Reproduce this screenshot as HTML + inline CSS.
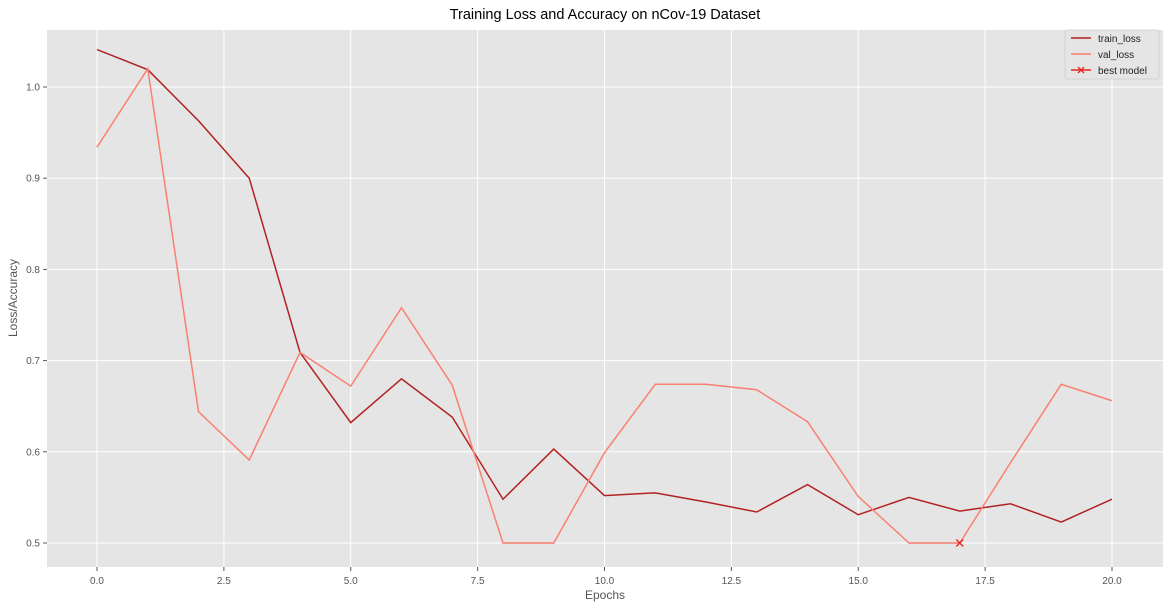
<!DOCTYPE html>
<html><head><meta charset="utf-8"><style>
html,body{margin:0;padding:0;background:#fff;}
svg text{font-family:"Liberation Sans",sans-serif;}
</style></head><body>
<svg id="chart" width="1170" height="609" xmlns="http://www.w3.org/2000/svg">
<rect x="47" y="30" width="1116" height="537" fill="#e5e5e5"/>
<g id="grid"></g>
<g id="ticks"></g>
<g id="series"></g>
<text x="605" y="19" font-size="14.5" text-anchor="middle" fill="#000">Training Loss and Accuracy on nCov-19 Dataset</text>
<text x="605" y="599" font-size="12" text-anchor="middle" fill="#555">Epochs</text>
<text transform="translate(17,298) rotate(-90)" font-size="12" text-anchor="middle" fill="#555">Loss/Accuracy</text>
<g>
<rect x="1065" y="30" width="94" height="49" fill="#e5e5e5" stroke="#ccc" stroke-width="0.8" rx="2"/>
<line x1="1071" y1="38" x2="1091" y2="38" stroke="#b22222" stroke-width="1.5"/>
<text x="1098" y="42" font-size="10" fill="#222">train_loss</text>
<line x1="1071" y1="54" x2="1091" y2="54" stroke="#fa8072" stroke-width="1.5"/>
<text x="1098" y="58" font-size="10" fill="#222">val_loss</text>
<line x1="1071" y1="70" x2="1091" y2="70" stroke="#e8231e" stroke-width="1.5"/>
<path d="M1078 67 L1084 73 M1084 67 L1078 73" stroke="#e8231e" stroke-width="1.3"/>
<text x="1098" y="74" font-size="10" fill="#222">best model</text>
</g>
</svg>
<script>
const epochs=[0,1,2,3,4,5,6,7,8,9,10,11,12,13,14,15,16,17,18,19,20];
const trainLoss=[1.041,1.019,0.963,0.900,0.709,0.632,0.680,0.638,0.548,0.603,0.552,0.555,0.545,0.534,0.564,0.531,0.550,0.535,0.543,0.523,0.548];
const valLoss=[0.934,1.020,0.644,0.591,0.709,0.672,0.758,0.673,0.500,0.500,0.599,0.674,0.674,0.668,0.633,0.551,0.500,0.500,0.588,0.674,0.656];
const bestEpoch=[17];
const bestValue=[0.500];
const xTicks=[0,2.5,5,7.5,10,12.5,15,17.5,20];
const xTickLabels=["0.0","2.5","5.0","7.5","10.0","12.5","15.0","17.5","20.0"];
const yTicks=[0.5,0.6,0.7,0.8,0.9,1.0];
const yTickLabels=["0.5","0.6","0.7","0.8","0.9","1.0"];
const NS="http://www.w3.org/2000/svg";
const X=v=>97+v*50.75;
const Y=v=>543-(v-0.5)*912;
function mk(tag,attrs,parent){const e=document.createElementNS(NS,tag);for(const k in attrs)e.setAttribute(k,attrs[k]);parent.appendChild(e);return e;}
const grid=document.getElementById('grid'),ticks=document.getElementById('ticks'),series=document.getElementById('series');
xTicks.forEach((t,i)=>{
 const g=mk('line',{x1:X(t),x2:X(t),y1:30,y2:567,stroke:'#fff','stroke-width':1},grid);
 
 
 mk('line',{x1:X(t),x2:X(t),y1:567,y2:571,stroke:'#555'},ticks);
 const tx=mk('text',{x:X(t),y:584,'font-size':10,'text-anchor':'middle',fill:'#555'},ticks);
 tx.textContent=xTickLabels[i];
 
 
});
yTicks.forEach((t,i)=>{
 const g=mk('line',{x1:47,x2:1163,y1:Y(t),y2:Y(t),stroke:'#fff','stroke-width':1},grid);
 
 
 mk('line',{x1:43,x2:47,y1:Y(t),y2:Y(t),stroke:'#555'},ticks);
 const tx=mk('text',{x:40,y:Y(t)+3.5,'font-size':10,'text-anchor':'end',fill:'#555'},ticks);
 tx.textContent=yTickLabels[i];
 
 
});
function line(vals,color,name){
 const p=mk('polyline',{points:vals.map((v,i)=>X(epochs[i])+','+Y(v)).join(' '),fill:'none',stroke:color,'stroke-width':1.5},series);
 
 
}
line(trainLoss,'#b22222','train-loss-line');
line(valLoss,'#fa8072','val-loss-line');
bestEpoch.forEach((e,i)=>{
 const x=X(e),y=Y(bestValue[i]);
 const m=mk('path',{d:`M${x-3.5} ${y-3.5} L${x+3.5} ${y+3.5} M${x+3.5} ${y-3.5} L${x-3.5} ${y+3.5}`,stroke:'#e8231e','stroke-width':1.3},series);
 
 
});
</script>
</body></html>
